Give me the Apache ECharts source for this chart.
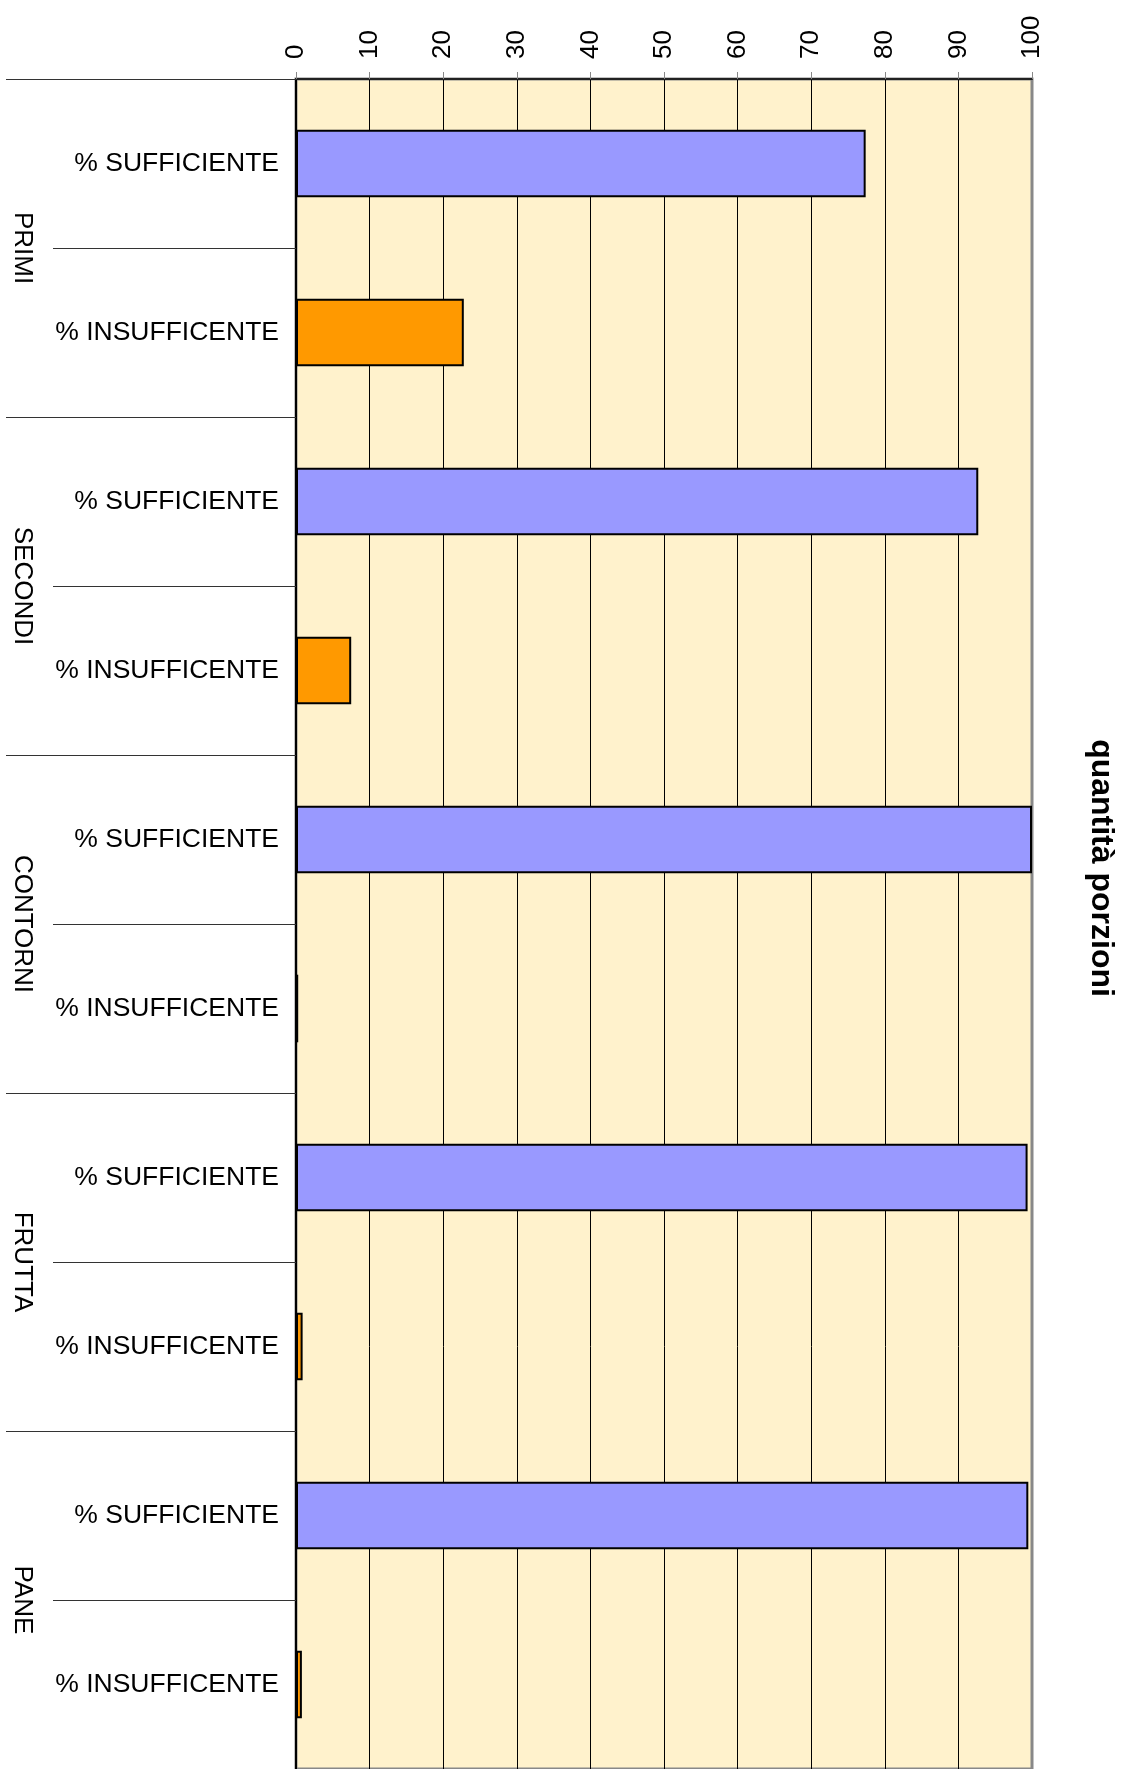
<!DOCTYPE html>
<html>
<head>
<meta charset="utf-8">
<script src="https://cdn.jsdelivr.net/npm/echarts@6/dist/echarts.min.js"></script>
<style>
  html, body { margin: 0; padding: 0; background: #fff; }
  #chart { width: 1128px; height: 1769px; }
</style>
</head>
<body>
<div id="chart"></div>
<script>
// data
const groups = ['PRIMI', 'SECONDI', 'CONTORNI', 'FRUTTA', 'PANE'];
const levels = ['% SUFFICIENTE', '% INSUFFICENTE'];
const sufficiente = [77.4, 92.7, 100, 99.4, 99.5];
const insufficente = [22.8, 7.5, 0.3, 0.9, 0.8];
const valueMin = 0;
const valueMax = 100;
const valueStep = 10;
const title = 'quantità porzioni';

const colors = ['#9999ff', '#ff9900'];
const font = '"Liberation Sans", Arial, sans-serif';

// one slot per (group, level), top to bottom
const categories = [];
const barData = [];
groups.forEach((g, i) => {
    [sufficiente[i], insufficente[i]].forEach((v, j) => {
        categories.push(levels[j]);
        barData.push({ value: v, itemStyle: { color: colors[j] } });
    });
});

const myChart = echarts.init(document.getElementById('chart'));

myChart.setOption({
    animation: false,
    textStyle: { fontFamily: font },
    grid: {
        left: 296,
        top: 79,
        width: 736,
        height: 1692,
        show: true,
        backgroundColor: '#fff2cc',
        borderColor: '#888',
        borderWidth: 3
    },
    graphic: [{
        type: 'text',
        x: 1101,
        y: 868,
        rotation: -Math.PI / 2,
        style: {
            text: title,
            font: 'bold 32px "Liberation Sans", Arial, sans-serif',
            fill: '#000',
            align: 'center',
            verticalAlign: 'middle'
        }
    }],
    xAxis: {
        type: 'value',
        position: 'top',
        min: valueMin,
        max: valueMax,
        interval: valueStep,
        axisLine: { show: true, lineStyle: { color: '#222', width: 2 } },
        axisTick: { show: true, length: 7, lineStyle: { color: '#888', width: 1 } },
        splitLine: { show: true, showMaxLine: false, lineStyle: { color: '#000', width: 1 } },
        axisLabel: {
            rotate: -90,
            margin: 20,
            fontSize: 26,
            color: '#000',
            fontFamily: font
        }
    },
    yAxis: [{
        type: 'category',
        data: categories,
        inverse: true,
        position: 'left',
        axisLine: { show: true, lineStyle: { color: '#000', width: 2 } },
        axisTick: { show: true, interval: 0, length: 243, lineStyle: { color: '#333', width: 1 } },
        axisLabel: {
            interval: 0,
            margin: 17,
            fontSize: 26.5,
            color: '#000',
            fontFamily: font
        }
    }, {
        type: 'category',
        data: groups,
        inverse: true,
        position: 'left',
        axisLine: { show: false },
        axisTick: { show: true, interval: 0, length: 290, lineStyle: { color: '#333', width: 1 } },
        axisLabel: {
            interval: 0,
            rotate: -90,
            margin: 274,
            fontSize: 26,
            color: '#000',
            fontFamily: font,
            align: 'center',
            verticalAlign: 'middle'
        }
    }],
    series: [{
        type: 'bar',
        yAxisIndex: 0,
        barWidth: '40%',
        data: barData,
        itemStyle: { borderColor: '#000', borderWidth: 2 }
    }]
});
</script>
</body>
</html>
